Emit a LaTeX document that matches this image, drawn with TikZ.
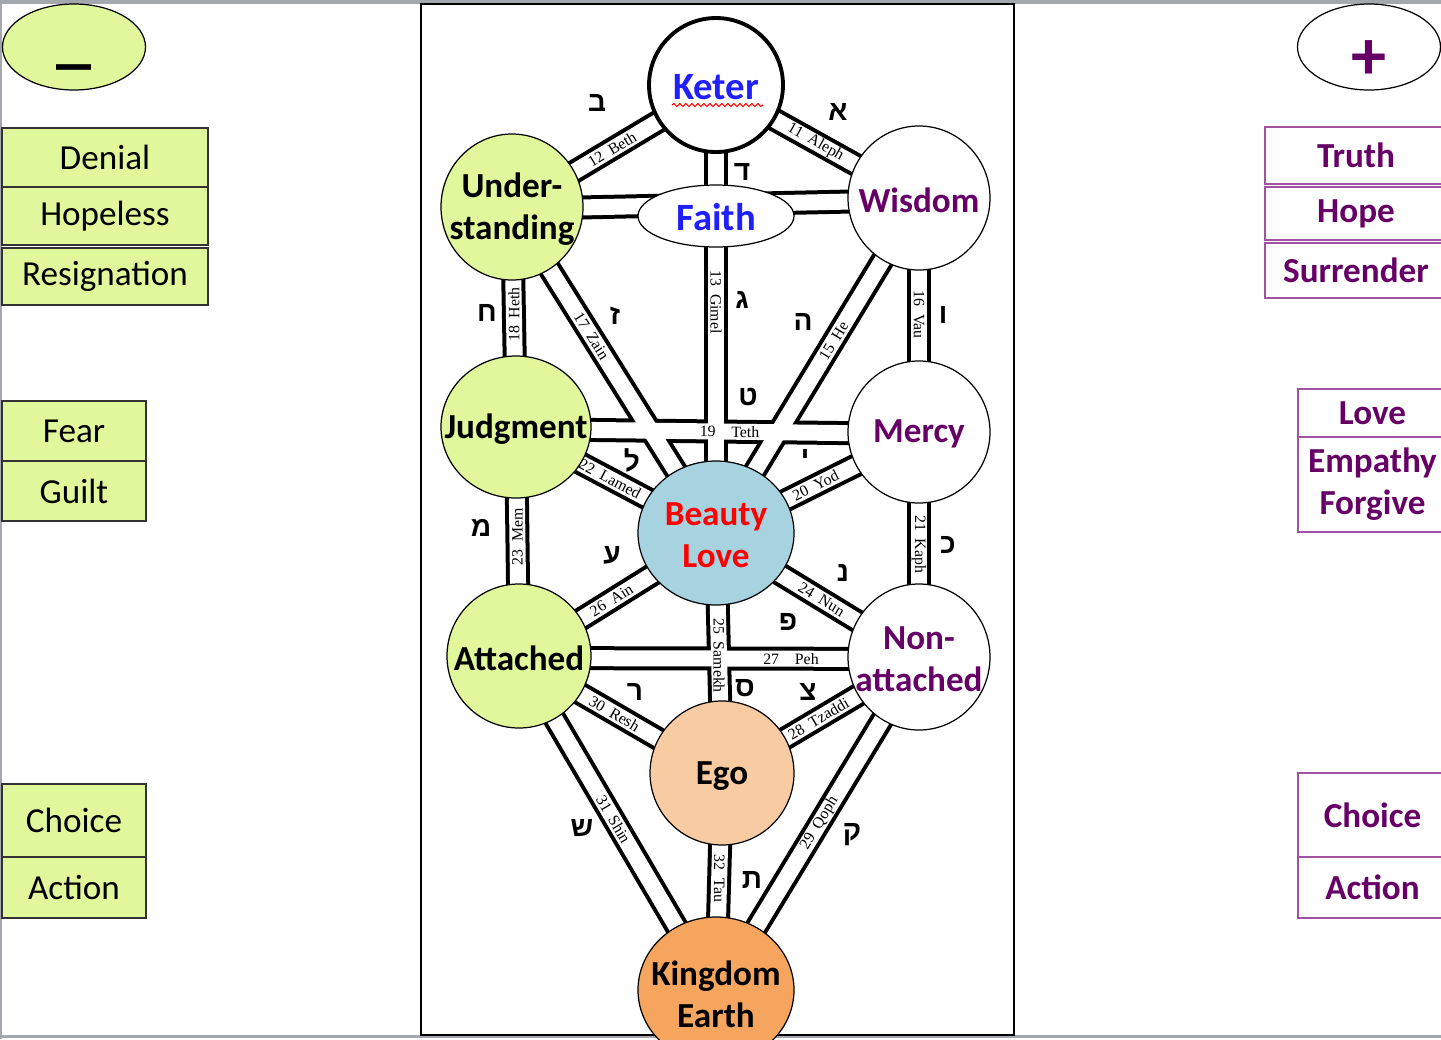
\documentclass[tikz,border=0pt]{standalone}
\usepackage{fontspec}
\setmainfont{Carlito}
\newfontfamily\pathfont{Liberation Serif}
\newfontfamily\hebfont[Script=Hebrew]{Liberation Sans}
\TeXXeTstate=1
\usepackage{tikz}
\usetikzlibrary{shapes,arrows,positioning,calc,decorations.pathmorphing}
\pgfdeclarelayer{paths}
\pgfsetlayers{paths,main}
\newdimen\pxu \pxu=0.02cm

\definecolor{leftgreen}{HTML}{E0F79B}
\definecolor{beautyblue}{HTML}{A7D3E0}
\definecolor{egopeach}{HTML}{F8CBA2}
\definecolor{earthorange}{HTML}{F5A55D}
\definecolor{plumtext}{HTML}{660066}
\definecolor{plumline}{HTML}{A053A0}
\definecolor{ketblue}{HTML}{1F1FFF}
\definecolor{framegray}{HTML}{A4A7AD}

\tikzstyle{sephring} = [draw, line width=0.7pt]
\tikzstyle{sephtext} = [inner sep=0pt, align=center, font=\fontsize{20}{24}\selectfont\bfseries]
\tikzstyle{chanout} = [line width=24\pxu]
\tikzstyle{chanin} = [white, line width=16\pxu]
\tikzstyle{pathlab} = [font=\pathfont\fontsize{9}{9}\selectfont, inner sep=0pt]
\tikzstyle{hebletter} = [font=\hebfont\bfseries\fontsize{16}{16}\selectfont, inner sep=0pt]
\tikzstyle{lbox} = [draw=black!80, fill=leftgreen, line width=0.8pt, inner sep=0pt, align=center, font=\fontsize{20}{24}\selectfont]
\tikzstyle{rbox} = [draw=plumline, line width=0.8pt, inner sep=0pt, align=center, text=plumtext, font=\fontsize{20}{24}\selectfont\bfseries]
\tikzstyle{signoval} = [draw, ellipse, line width=0.7pt, inner sep=0pt, font=\fontsize{40}{40}\selectfont\bfseries, minimum width=143\pxu, minimum height=86\pxu]

\begin{document}
\begin{tikzpicture}[x=0.02cm,y=-0.02cm]
		\useasboundingbox (0,0) rectangle (1441,1039);
		\clip (0,0) rectangle (1441,1039);
		% window frame and centre panel
		\fill[framegray] (0,0) rectangle (1441,4);
		\fill[framegray] (0,1035) rectangle (1441,1038);
		\fill[framegray] (0,0) rectangle (2,1039);
		\draw[line width=0.9pt] (421,4) rectangle (1014,1035);

		% the sephirot
		\filldraw[sephring, fill=white, line width=2.2pt] (716,85) ellipse (67 and 67);
		\filldraw[sephring, fill=leftgreen] (512,207) ellipse (71 and 73);
		\filldraw[sephring, fill=white] (919,198) ellipse (71 and 72);
		\filldraw[sephring, fill=white] (716,216) ellipse (78 and 31);
		\filldraw[sephring, fill=leftgreen] (516,427) ellipse (75 and 71);
		\filldraw[sephring, fill=white] (919,432) ellipse (71 and 71);
		\filldraw[sephring, fill=beautyblue] (716,533) ellipse (78 and 72);
		\filldraw[sephring, fill=leftgreen] (519,656) ellipse (72 and 72);
		\filldraw[sephring, fill=white] (919,657) ellipse (71 and 73);
		\filldraw[sephring, fill=egopeach] (722,773) ellipse (72 and 72);
		\filldraw[sephring, fill=earthorange] (716,990) ellipse (78 and 73);
		\node[sephtext, text=ketblue, font=\fontsize{22}{26}\selectfont\bfseries] (keter) at (716,87) {Keter};
		\node[sephtext] (under) at (512,209) {Under-\\standing};
		\node[sephtext, text=plumtext] (wisdom) at (919,200) {Wisdom};
		\node[sephtext, text=ketblue, font=\fontsize{22}{26}\selectfont\bfseries] (faith) at (716,217) {Faith};
		\node[sephtext] (judg) at (516,429) {Judgment};
		\node[sephtext, text=plumtext] (mercy) at (919,434) {Mercy};
		\node[sephtext, text=red] (beauty) at (716,535) {Beauty\\Love};
		\node[sephtext] (attach) at (519,658) {Attached};
		\node[sephtext, text=plumtext] (nonatt) at (919,659) {Non-\\attached};
		\node[sephtext] (ego) at (722,776) {Ego};
		\node[sephtext] (kingdom) at (716,994) {Kingdom\\Earth};
		\draw[red, line width=0.6pt, decorate, decoration={snake, amplitude=1.4\pxu, segment length=6\pxu}] ($(keter)+(-44,18)$) -- ($(keter)+(47,18)$);

		% the 22 channels, drawn as open double lines
		\begin{pgfonlayer}{paths}
		\foreach \a/\b in {keter/under,keter/wisdom,keter/beauty,under/wisdom,under/judg,under/beauty,wisdom/beauty,wisdom/mercy,judg/mercy,judg/beauty,judg/attach,mercy/beauty,mercy/nonatt,beauty/attach,beauty/nonatt,beauty/ego,attach/nonatt,attach/ego,nonatt/ego,attach/kingdom,nonatt/kingdom,ego/kingdom}
			\draw[chanout] (\a.center) -- (\b.center);
		\foreach \a/\b in {keter/under,keter/wisdom,keter/beauty,under/wisdom,under/judg,under/beauty,wisdom/beauty,wisdom/mercy,judg/mercy,judg/beauty,judg/attach,mercy/beauty,mercy/nonatt,beauty/attach,beauty/nonatt,beauty/ego,attach/nonatt,attach/ego,nonatt/ego,attach/kingdom,nonatt/kingdom,ego/kingdom}
			\draw[chanin] (\a.center) -- (\b.center);
		\end{pgfonlayer}

		% path numbers and names
		\foreach \a/\b/\p/\t [count=\i] in {keter/wisdom/0.49/11\enspace Aleph, keter/under/0.51/12\enspace Beth, wisdom/beauty/0.42/15\enspace He, under/beauty/0.39/17\enspace Zain, judg/mercy/0.53/19\quad Teth, mercy/beauty/0.51/20\enspace Yod, judg/beauty/0.47/22\enspace Lamed, beauty/nonatt/0.52/24\enspace Nun, beauty/attach/0.53/26\enspace Ain, attach/nonatt/0.68/27\quad Peh, nonatt/ego/0.51/28\enspace Tzaddi, nonatt/kingdom/0.49/29\enspace Qoph, attach/ego/0.47/30\enspace Resh, attach/kingdom/0.48/31\enspace Shin}
			\path (\a.center) -- (\b.center) node[pathlab, pos=\p, sloped] (lab\i) {\t};
		\foreach \a/\b/\p/\r/\t [count=\i] in {keter/beauty/0.48/-90/13\enspace Gimel, under/judg/0.48/90/18\enspace Heth, wisdom/mercy/0.49/-90/16\enspace Vau, mercy/nonatt/0.49/-90/21\enspace Kaph, judg/attach/0.47/90/23\enspace Mem, beauty/ego/0.5/-90/25\enspace Samekh, ego/kingdom/0.47/-90/32\enspace Tau}
			\path (\a.center) -- (\b.center) node[pathlab, pos=\p, rotate=\r] (vlab\i) {\t};

		% hebrew letters
		\foreach \x/\y/\l [count=\i] in {597/103/ב, 838/112/א, 742/172/ד, 742/300/ג, 803/322/ה, 943/315/ו, 615/316/ז, 487/313/ח, 748/397/ט, 805/458/י, 948/545/כ, 632/460/ל, 481/528/מ, 843/573/נ, 745/688/ס, 612/555/ע, 788/622/פ, 808/692/צ, 852/835/ק, 635/692/ר, 582/828/ש, 752/880/ת}
			\node[hebletter] (heb\i) at (\x,\y) {\beginR\l\endR};

		% minus side
		\node[signoval, fill=leftgreen] (minus) at (74,47) {\smash{\raisebox{-7.8pt}{\textunderscore}}};
		\node[lbox, minimum width=206\pxu, minimum height=59\pxu] (denial) at (105,157.5) {Denial};
		\node[lbox, minimum width=206\pxu, minimum height=58\pxu] (hopeless) at (105,216) {Hopeless};
		\node[lbox, minimum width=206\pxu, minimum height=57\pxu] (resign) at (105,276.5) {Resignation};
		\node[lbox, minimum width=144\pxu, minimum height=60\pxu] (fear) at (74,431) {Fear};
		\node[lbox, minimum width=144\pxu, minimum height=60\pxu] (guilt) at (74,491) {Guilt};
		\node[lbox, minimum width=144\pxu, minimum height=73\pxu] (lchoice) at (74,820.5) {Choice};
		\node[lbox, minimum width=144\pxu, minimum height=61\pxu] (laction) at (74,887.5) {Action};

		% plus side
		\node[signoval, text=plumtext] (plus) at (1369,47) {\smash{\raisebox{-18.3pt}{+}}};
		\node[rbox, minimum width=182\pxu, minimum height=57\pxu] (truth) at (1356,155.5) {Truth};
		\node[rbox, minimum width=182\pxu, minimum height=53\pxu] (hope) at (1356,213.5) {Hope};
		\node[rbox, minimum width=182\pxu, minimum height=55\pxu] (surrender) at (1356,270.5) {Surrender};
		\node[rbox, minimum width=149\pxu, minimum height=48\pxu] (love) at (1372.5,413) {Love};
		\node[rbox, minimum width=149\pxu, minimum height=95\pxu] (empathy) at (1372.5,484.5) {Empathy\\Forgive};
		\node[rbox, minimum width=149\pxu, minimum height=84\pxu] (rchoice) at (1372.5,815) {Choice};
		\node[rbox, minimum width=149\pxu, minimum height=61\pxu] (raction) at (1372.5,887.5) {Action};
\end{tikzpicture}
\end{document}
